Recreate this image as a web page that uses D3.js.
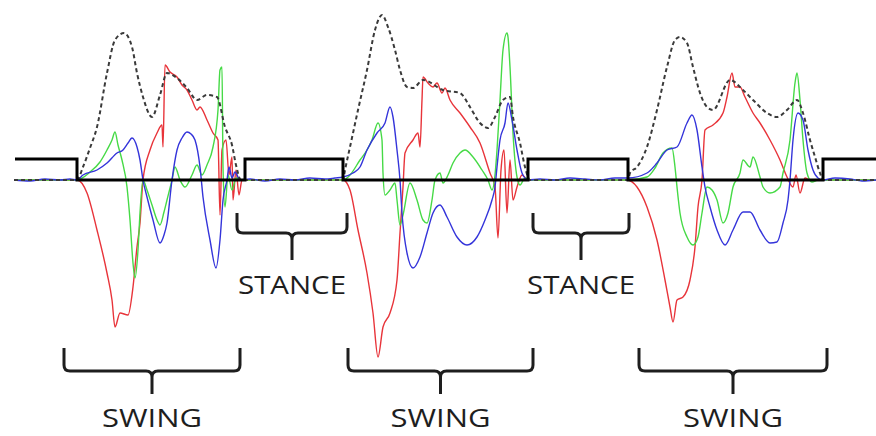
<!DOCTYPE html>
<html>
<head>
<meta charset="utf-8">
<script src="https://cdn.jsdelivr.net/npm/d3@7"></script>
<style>
  html, body { margin: 0; padding: 0; background: #fff; }
  svg { display: block; }
</style>
</head>
<body>
<svg id="chart" width="876" height="436"></svg>
<script>
// ---- DATA (time in s, signal in arbitrary units) ----
const stepTimes  = [0.15, 0.77, 2.45, 3.43, 5.28, 6.28, 8.23, 8.76];
const stepLevels = [0.21, 0, 0.21, 0, 0.21, 0, 0.21, 0.21];

const stancePhases = [[2.37, 3.47], [5.33, 6.29]];
const swingPhases  = [[0.64, 2.40], [3.48, 5.33], [6.39, 8.27]];
const stanceLabel = "STANCE";
const swingLabel  = "SWING";

const stance0 = [[0.14,0],[0.30,-0.01],[0.45,0.01],[0.60,0],[0.70,0.01]];
const stance1 = [[2.50,0.01],[2.65,-0.01],[2.80,0.01],[2.95,0],[3.10,0.02],[3.25,0.01],[3.35,0.02]];
const stance2 = [[5.40,0.01],[5.55,0],[5.70,0.02],[5.85,0.01],[6.00,0],[6.15,0.02]];
const stance3 = [[8.35,0.02],[8.50,0.01],[8.62,-0.01],[8.76,0]];

const red1 = [[0.77,0],[0.87,-0.13],[0.97,-0.50],[1.07,-0.93],[1.12,-1.20],[1.15,-1.47],[1.20,-1.33],[1.28,-1.35],[1.33,-1.07],[1.37,-0.67],[1.40,-0.43],[1.43,0],[1.50,0.30],[1.57,0.47],[1.62,0.55],[1.63,0.33],[1.65,1.15],[1.70,1.08],[1.77,1.03],[1.82,0.95],[1.87,0.90],[1.92,0.80],[1.97,0.70],[2.00,0.73],[2.07,0.60],[2.13,0.47],[2.18,0.40],[2.20,-0.35],[2.22,0.30],[2.26,0.40],[2.29,0.05],[2.32,0.23],[2.33,-0.20],[2.36,0.10],[2.39,-0.15],[2.42,0]];
const red2 = [[3.43,0],[3.50,-0.10],[3.58,-0.50],[3.67,-0.93],[3.73,-1.33],[3.78,-1.77],[3.83,-1.47],[3.90,-1.33],[3.97,-1.00],[4.00,-0.53],[4.03,-0.07],[4.05,0.27],[4.13,0.40],[4.18,0.47],[4.20,0.33],[4.22,0.80],[4.23,1.03],[4.28,0.97],[4.33,0.93],[4.37,0.97],[4.42,0.87],[4.45,0.92],[4.50,0.80],[4.60,0.67],[4.70,0.53],[4.80,0.37],[4.90,0.07],[4.95,-0.07],[4.98,-0.58],[5.01,0.10],[5.04,0.30],[5.07,-0.33],[5.10,0.20],[5.13,-0.20],[5.17,-0.07],[5.22,0.05],[5.28,0]];
const red3 = [[6.27,0],[6.37,-0.07],[6.47,-0.27],[6.57,-0.60],[6.65,-1.00],[6.70,-1.27],[6.73,-1.42],[6.77,-1.20],[6.83,-1.17],[6.90,-1.00],[6.95,-0.67],[6.98,-0.27],[7.02,0],[7.05,0.50],[7.13,0.55],[7.23,0.67],[7.27,0.83],[7.32,1.07],[7.35,0.93],[7.40,0.93],[7.45,0.83],[7.53,0.67],[7.60,0.57],[7.70,0.40],[7.80,0.20],[7.87,0.03],[7.93,-0.07],[7.96,0.05],[8.00,-0.13],[8.05,0.02],[8.10,0]];

const green1 = [[0.77,0],[0.90,0.08],[1.00,0.18],[1.07,0.30],[1.12,0.40],[1.15,0.48],[1.18,0.35],[1.22,0.20],[1.27,-0.07],[1.30,-0.40],[1.33,-0.83],[1.35,-0.98],[1.38,-0.70],[1.40,-0.33],[1.43,0],[1.47,-0.10],[1.52,-0.25],[1.57,-0.40],[1.60,-0.45],[1.64,-0.32],[1.67,-0.20],[1.72,0],[1.75,0.13],[1.80,0],[1.85,-0.07],[1.92,0.05],[1.97,0.15],[2.02,0.05],[2.07,0.15],[2.13,0.33],[2.18,0.70],[2.20,1.10],[2.22,1.13],[2.23,0.13],[2.25,-0.27],[2.28,0.05],[2.32,-0.10],[2.36,0.02],[2.42,0]];
const green2 = [[3.43,0],[3.50,0.05],[3.60,0.20],[3.67,0.30],[3.72,0.40],[3.78,0.57],[3.82,0.40],[3.83,0.07],[3.85,-0.15],[3.90,-0.10],[3.95,-0.03],[3.97,-0.20],[4.00,-0.45],[4.03,-0.35],[4.10,-0.03],[4.17,-0.20],[4.23,-0.40],[4.27,-0.43],[4.32,-0.20],[4.35,0],[4.40,0.07],[4.43,-0.03],[4.48,0.05],[4.53,0.17],[4.60,0.27],[4.65,0.30],[4.73,0.23],[4.82,0.10],[4.88,0],[4.92,-0.10],[4.95,0.05],[4.97,0.30],[5.00,0.80],[5.03,1.30],[5.07,1.47],[5.08,1.43],[5.10,1.13],[5.13,0.47],[5.17,0.03],[5.20,-0.05],[5.25,0.02],[5.30,0]];
const green3 = [[6.28,0],[6.47,0.03],[6.55,0.12],[6.63,0.27],[6.72,0.32],[6.75,0.13],[6.77,-0.07],[6.80,-0.33],[6.87,-0.57],[6.93,-0.65],[6.98,-0.57],[7.02,-0.33],[7.07,-0.07],[7.12,-0.10],[7.17,-0.20],[7.23,-0.43],[7.28,-0.33],[7.33,-0.07],[7.40,0.07],[7.43,0.20],[7.50,0.13],[7.53,0.23],[7.60,0.03],[7.63,-0.07],[7.70,-0.13],[7.80,-0.07],[7.83,0.07],[7.90,0.40],[7.95,0.97],[7.97,1.07],[8.00,0.80],[8.03,0.40],[8.07,0.07],[8.12,-0.02],[8.18,0]];

const blue1 = [[0.77,0],[0.83,0.05],[0.97,0.10],[1.07,0.17],[1.17,0.27],[1.23,0.30],[1.28,0.37],[1.32,0.42],[1.37,0.33],[1.40,0.20],[1.43,0],[1.47,-0.17],[1.53,-0.40],[1.60,-0.63],[1.64,-0.55],[1.67,-0.43],[1.72,0],[1.77,0.30],[1.82,0.42],[1.87,0.48],[1.91,0.46],[1.95,0.40],[2.00,0.13],[2.03,-0.17],[2.10,-0.60],[2.16,-0.88],[2.20,-0.60],[2.23,-0.20],[2.27,0],[2.29,0.13],[2.32,0.02],[2.35,0.08],[2.40,0]];
const blue2 = [[3.43,0.03],[3.53,0.07],[3.60,0.13],[3.67,0.30],[3.77,0.47],[3.85,0.57],[3.90,0.73],[3.93,0.63],[3.97,0.30],[4.00,0],[4.02,-0.33],[4.07,-0.73],[4.13,-0.88],[4.20,-0.77],[4.27,-0.53],[4.33,-0.33],[4.40,-0.25],[4.47,-0.37],[4.57,-0.57],[4.67,-0.65],[4.77,-0.57],[4.85,-0.40],[4.92,-0.20],[4.95,-0.07],[4.97,0.13],[5.00,0.40],[5.05,0.57],[5.08,0.77],[5.12,0.60],[5.17,0.30],[5.22,0.07],[5.28,0]];
const blue3 = [[6.28,0.02],[6.47,0.07],[6.57,0.17],[6.67,0.30],[6.77,0.33],[6.87,0.57],[6.92,0.65],[6.97,0.50],[7.02,0.13],[7.05,-0.07],[7.10,-0.27],[7.17,-0.50],[7.25,-0.65],[7.33,-0.50],[7.43,-0.32],[7.50,-0.32],[7.60,-0.50],[7.70,-0.63],[7.77,-0.62],[7.83,-0.43],[7.88,-0.20],[7.90,0],[7.93,0.40],[7.98,0.67],[8.03,0.60],[8.08,0.30],[8.13,0.10],[8.18,0.02],[8.23,0]];

const dash1 = [[0.77,0],[0.83,0.13],[0.90,0.32],[0.97,0.53],[1.07,1.07],[1.15,1.40],[1.24,1.47],[1.32,1.33],[1.37,1.07],[1.43,0.83],[1.52,0.63],[1.60,0.85],[1.67,1.07],[1.77,1.02],[1.87,0.92],[1.97,0.80],[2.07,0.85],[2.17,0.83],[2.25,0.53],[2.32,0.35],[2.36,0.15],[2.41,0]];
const dash2 = [[3.43,0],[3.45,0.10],[3.50,0.33],[3.58,0.70],[3.67,1.10],[3.75,1.50],[3.82,1.65],[3.88,1.53],[3.95,1.30],[4.00,1.10],[4.07,0.93],[4.13,0.92],[4.23,1.00],[4.43,0.90],[4.60,0.87],[4.70,0.73],[4.80,0.57],[4.88,0.52],[4.95,0.63],[5.03,0.80],[5.10,0.83],[5.13,0.63],[5.20,0.37],[5.25,0.13],[5.30,0]];
const dash3 = [[6.28,0],[6.30,0.07],[6.37,0.13],[6.47,0.33],[6.57,0.70],[6.67,1.13],[6.75,1.40],[6.80,1.43],[6.87,1.37],[6.93,1.13],[7.00,0.87],[7.07,0.73],[7.13,0.70],[7.30,1.00],[7.43,0.90],[7.53,0.80],[7.67,0.67],[7.77,0.63],[7.87,0.70],[7.97,0.80],[8.03,0.67],[8.10,0.40],[8.15,0.23],[8.20,0.07],[8.23,0]];

// ---- CHART ----
const svg = d3.select("#chart");
const x = d3.scaleLinear().domain([0, 8.76]).range([0, 876]);
const y = d3.scaleLinear().domain([-1.8, 1.8]).range([360, 0]);

const zero = (arr) => arr.map(d => [d[0], 0]);
const redAll   = [...zero(stance0), ...red1, ...zero(stance1), ...red2, ...zero(stance2), ...red3, ...zero(stance3)];
const greenAll = [...zero(stance0), ...green1, ...zero(stance1), ...green2, ...zero(stance2), ...green3, ...zero(stance3)];
const blueAll  = [...stance0, ...blue1, ...stance1, ...blue2, ...stance2, ...blue3, ...stance3];
const dashAll  = [...zero(stance0), ...dash1, ...zero(stance1), ...dash2, ...zero(stance2), ...dash3, ...zero(stance3)];

const line = d3.line().x(d => x(d[0])).y(d => y(d[1])).curve(d3.curveMonotoneX);

const series = [
  {data: redAll,   color: "rgb(232,52,58)",  w: 1.4, dash: null},
  {data: greenAll, color: "rgb(70,218,70)",  w: 1.4, dash: null},
  {data: blueAll,  color: "rgb(52,52,218)",  w: 1.4, dash: null},
  {data: dashAll,  color: "#3a3a3a",         w: 2,   dash: "4,3"}
];
svg.append("g").selectAll("path").data(series).join("path")
  .attr("d", d => line(d.data))
  .attr("fill", "none")
  .attr("stroke", d => d.color)
  .attr("stroke-width", d => d.w)
  .attr("stroke-dasharray", d => d.dash)
  .attr("stroke-linejoin", "round");

// Gait square wave
const stepData = stepTimes.map((t, i) => [t, stepLevels[i]]);
const stepLine = d3.line().x(d => x(d[0])).y(d => y(d[1])).curve(d3.curveStepAfter);
svg.append("path").attr("d", stepLine(stepData))
  .attr("fill", "none").attr("stroke", "#000").attr("stroke-width", 3);

// Brackets
function bracket(x0, x1, top, mid, bottom) {
  const c = (x0 + x1) / 2, r = 6;
  return `M${x0},${top} L${x0},${mid - r} Q${x0},${mid} ${x0 + r},${mid} L${c - r},${mid} Q${c},${mid} ${c},${mid + r} L${c},${bottom}` +
         ` M${x1},${top} L${x1},${mid - r} Q${x1},${mid} ${x1 - r},${mid} L${c + r},${mid} Q${c},${mid} ${c},${mid + r}`;
}
const g = svg.append("g");
stancePhases.forEach(p => {
  const x0 = x(p[0]), x1 = x(p[1]);
  g.append("path").attr("d", bracket(x0, x1, 213, 233, 260))
    .attr("fill", "none").attr("stroke", "#1e1e1e").attr("stroke-width", 3);
  g.append("text").attr("x", (x0 + x1) / 2).attr("y", 294)
    .attr("text-anchor", "middle").attr("font-family", "'Open Sans', sans-serif")
    .attr("font-size", 26).attr("fill", "#1e1e1e")
    .attr("textLength", 108).attr("lengthAdjust", "spacingAndGlyphs")
    .text(stanceLabel);
});
swingPhases.forEach(p => {
  const x0 = x(p[0]), x1 = x(p[1]);
  g.append("path").attr("d", bracket(x0, x1, 348, 371, 394))
    .attr("fill", "none").attr("stroke", "#1e1e1e").attr("stroke-width", 3);
  g.append("text").attr("x", (x0 + x1) / 2).attr("y", 427)
    .attr("text-anchor", "middle").attr("font-family", "'Open Sans', sans-serif")
    .attr("font-size", 26).attr("fill", "#1e1e1e")
    .attr("textLength", 100).attr("lengthAdjust", "spacingAndGlyphs")
    .text(swingLabel);
});
</script>
</body>
</html>
